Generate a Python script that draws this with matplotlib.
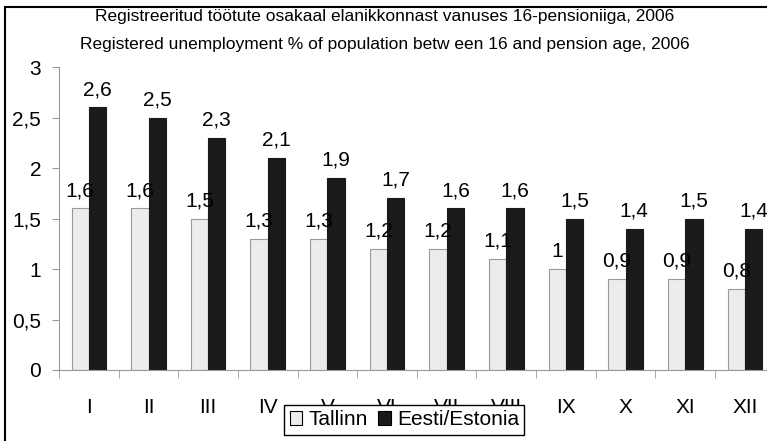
import matplotlib.pyplot as plt
import numpy as np
from matplotlib.patches import Rectangle

plt.rcParams['font.family'] = ['Liberation Sans', 'DejaVu Sans']

# Data
months = ['I', 'II', 'III', 'IV', 'V', 'VI', 'VII', 'VIII', 'IX', 'X', 'XI', 'XII']
tallinn = [1.6, 1.6, 1.5, 1.3, 1.3, 1.2, 1.2, 1.1, 1.0, 0.9, 0.9, 0.8]
estonia = [2.6, 2.5, 2.3, 2.1, 1.9, 1.7, 1.6, 1.6, 1.5, 1.4, 1.5, 1.4]
yticks = [0, 0.5, 1, 1.5, 2, 2.5, 3]

def fmt(v):
    return f'{v:g}'.replace('.', ',')

fig = plt.figure(figsize=(7.67, 4.41), dpi=100)
ax = fig.add_axes([0.077, 0.161, 0.933, 0.687])

x = np.arange(len(months))
w = 0.29
b1 = ax.bar(x - w / 2, tallinn, w, color='#ececec', edgecolor='#999999', linewidth=0.8,
            label='Tallinn', zorder=2)
b2 = ax.bar(x + w / 2, estonia, w, color='#1a1a1a', edgecolor='#1a1a1a', linewidth=0.8,
            label='Eesti/Estonia', zorder=2)

for bars, vals in ((b1, tallinn), (b2, estonia)):
    for r, v in zip(bars, vals):
        ax.annotate(fmt(v), (r.get_x() + r.get_width() / 2, v), xytext=(0, 6),
                    textcoords='offset points', ha='center', va='bottom', fontsize=15)

ax.set_xlim(-0.5, len(months) - 0.5)
ax.set_ylim(0, 3)
ax.set_yticks(yticks)
ax.set_yticklabels([fmt(v) for v in yticks], fontsize=15)
ax.set_xticks(x)
ax.set_xticklabels(months, fontsize=15)
ax.set_xticks(np.arange(len(months) + 1) - 0.5, minor=True)
ax.tick_params(axis='x', which='major', length=0, pad=20)
ax.tick_params(axis='x', which='minor', length=6, color='#999999', direction='out')
ax.tick_params(axis='y', length=5, color='#999999', pad=8)

for s in ('top', 'right'):
    ax.spines[s].set_visible(False)
for s in ('left', 'bottom'):
    ax.spines[s].set_color('#999999')

fig.text(0.502, 0.962, 'Registreeritud töötute osakaal elanikkonnast vanuses 16-pensioniiga, 2006',
         ha='center', va='center', fontsize=12.5)
fig.text(0.502, 0.898, 'Registered unemployment % of population betw een 16 and pension age, 2006',
         ha='center', va='center', fontsize=12.5)

leg = fig.legend(loc='center', bbox_to_anchor=(0.527, 0.048), ncol=2, fontsize=15,
                 frameon=True, fancybox=False, framealpha=1, edgecolor='black',
                 handlelength=0.6, handleheight=0.6, handletextpad=0.3,
                 columnspacing=0.5, borderpad=0.25, borderaxespad=0)
leg.get_frame().set_linewidth(1.0)
for h in leg.legend_handles:
    h.set_edgecolor('black')
    h.set_linewidth(0.8)

# outer chart frame (only left/top edges visible in crop)
fig.add_artist(Rectangle((5 / 767, -0.2), 1.2, 1.2 - 6.5 / 441,
                         transform=fig.transFigure, fill=False, edgecolor='black', linewidth=1.5))

plt.savefig('out.png', dpi=100)
